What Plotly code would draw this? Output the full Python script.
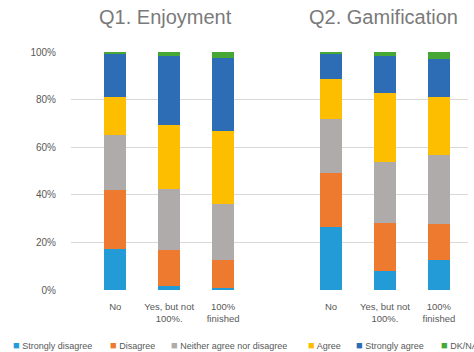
import plotly.graph_objects as go

# Survey responses (% of respondents) per completion group
groups = ["Q1. Enjoyment", "Q2. Gamification"]
categories = ["No", "Yes, but not<br>100%.", "100%<br>finished",
              "No", "Yes, but not<br>100%.", "100%<br>finished"]
positions = [0, 1, 2, 4, 5, 6]

responses = ["Strongly disagree", "Disagree", "Neither agree nor disagree",
             "Agree", "Strongly agree", "DK/NA"]
colors = ["#239BD7", "#ED7A2F", "#AEABAA", "#FDBE00", "#2C6DB5", "#46A735"]

strongly_disagree = [17.1, 1.7, 0.7, 26.5, 8.0, 12.5]
disagree = [24.9, 15.2, 11.8, 22.8, 20.2, 15.3]
neither = [23.0, 25.5, 23.6, 22.6, 25.6, 28.9]
agree = [16.3, 27.1, 30.5, 16.9, 29.1, 24.2]
strongly_agree = [17.7, 28.7, 31.0, 10.2, 15.3, 16.3]
dk_na = [1.0, 1.8, 2.4, 1.0, 1.8, 2.8]

series = [strongly_disagree, disagree, neither, agree, strongly_agree, dk_na]

fig = go.Figure()
for name, color, vals in zip(responses, colors, series):
    fig.add_trace(go.Bar(
        x=positions, y=vals, name=name, width=0.41,
        marker=dict(color=color, line=dict(width=0)),
        showlegend=False,
    ))

label_font = dict(family="Liberation Sans, Arial, sans-serif", color="#595959")

fig.update_layout(
    barmode="stack",
    width=474, height=352,
    margin=dict(l=71, r=6, t=52, b=62),
    plot_bgcolor="white", paper_bgcolor="white",
    xaxis=dict(
        range=[-0.82, 6.54], tickvals=positions, ticktext=categories,
        showgrid=False, zeroline=False, showline=False, ticks="",
        ticklabelstandoff=9,
        tickfont=dict(size=9.5, **label_font),
    ),
    yaxis=dict(
        range=[0, 100], tickvals=[0, 20, 40, 60, 80, 100],
        ticktext=["0%", "20%", "40%", "60%", "80%", "100%"],
        showgrid=True, gridcolor="#D9D9D9", gridwidth=1,
        zeroline=False, showline=False, ticks="", ticklabelstandoff=14,
        tickfont=dict(size=10, **label_font),
    ),
)

# Group titles
for title, xc in zip(groups, [0.93, 4.97]):
    fig.add_annotation(
        x=xc, xref="x", y=1, yref="paper", yshift=35, yanchor="middle",
        text=title, showarrow=False,
        font=dict(family="Liberation Sans, Arial, sans-serif", size=20, color="#7A7A7A"),
    )

# Key along the bottom
key_x = [11, 108, 169, 306, 354, 439]
for name, color, px in zip(responses, colors, key_x):
    fig.add_annotation(
        x=(px - 71) / 397, xref="paper", y=-55 / 238, yref="paper",
        xanchor="left", yanchor="middle", showarrow=False,
        text=f'<span style="color:{color};font-size:11px">■</span> {name}',
        font=dict(size=9, **label_font),
    )

fig.write_html("out.html")
